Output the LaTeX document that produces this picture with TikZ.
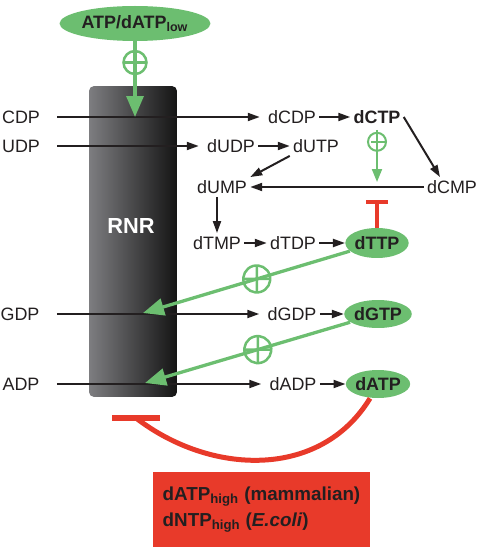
\documentclass[tikz,border=0pt]{standalone}
\usepackage{fontspec}
\setmainfont{Liberation Sans}
\usetikzlibrary{arrows.meta,shapes.geometric}

\definecolor{actgreen}{RGB}{108,190,112}
\definecolor{inhred}{RGB}{232,58,42}
\definecolor{barleft}{RGB}{125,125,128}
\definecolor{barright}{RGB}{20,20,20}
\definecolor{txt}{RGB}{35,31,32}

\begin{document}
\begin{tikzpicture}[x=0.02cm,y=-0.02cm,
    met/.style={inner sep=0.06cm,text=txt,font=\fontsize{10.2}{12}\selectfont},
    eff/.style={ellipse,fill=actgreen,inner sep=0pt,minimum width=1.2cm,minimum height=0.56cm,
      text=txt,font=\fontsize{10.2}{12}\selectfont\bfseries},
    flow/.style={txt,line width=0.04cm,-{Triangle[length=0.24cm,width=0.16cm]}},
    feed/.style={flow,shorten <=0.28cm,shorten >=0.1cm},
    act/.style={actgreen,line width=0.066cm,-{Triangle[length=0.42cm,width=0.34cm]}},
    plus/.style={circle,draw=actgreen,line width=0.05cm,inner sep=0pt,minimum size=0.46cm,
      path picture={\draw[-,actgreen,line width=0.05cm]
        (path picture bounding box.north) -- (path picture bounding box.south)
        (path picture bounding box.west) -- (path picture bounding box.east);}},
    inh/.style={inhred,line width=0.08cm}]

  \useasboundingbox (0,0) rectangle (480,550);

  % enzyme
  \node[rectangle,rounded corners=0.1cm,left color=barleft,right color=barright,
    inner sep=0pt,minimum width=1.76cm,minimum height=6.22cm] (rnr) at (133,241.5) {};
  \node[text=white,font=\fontsize{12.4}{14}\selectfont\bfseries] (rnrname) at (131,226) {RNR};

  % metabolites
  \node[eff,minimum width=2.74cm,minimum height=0.7cm] (atp) at (135,23.5) {ATP/dATP\textsubscript{low}};
  \node[met] (cdp) at (21,117) {CDP};
  \node[met] (udp) at (21,146) {UDP};
  \node[met] (gdp) at (20,314) {GDP};
  \node[met] (adp) at (21,384) {ADP};
  \node[met] (dcdp) at (292,117) {dCDP};
  \node[met,font=\fontsize{10.2}{12}\selectfont\bfseries] (dctp) at (377,117) {dCTP};
  \node[met] (dudp) at (231,146) {dUDP};
  \node[met] (dutp) at (316,146) {dUTP};
  \node[met] (dump) at (222,187) {dUMP};
  \node[met] (dcmp) at (452,187) {dCMP};
  \node[met] (dtmp) at (217,243) {dTMP};
  \node[met] (dtdp) at (293,243) {dTDP};
  \node[eff,minimum height=0.6cm] (dttp) at (377,243) {dTTP};
  \node[met] (dgdp) at (292,314) {dGDP};
  \node[eff] (dgtp) at (378,314) {dGTP};
  \node[met] (dadp) at (293,384) {dADP};
  \node[eff] (datp) at (378,384) {dATP};

  \coordinate (cdpin) at (135,117);
  \coordinate (gdpin) at (143,313);
  \coordinate (adpin) at (145,383);
  \coordinate (dctpin) at (377,182);
  \coordinate (dcmpblk) at (377,200);
  \coordinate (fbk) at (136,418);

  % reduction through RNR
  \draw[feed] (cdp) -- (dcdp);
  \draw[feed] (udp) -- (dudp);
  \draw[feed] (gdp) -- (dgdp);
  \draw[feed] (adp) -- (dadp);

  % downstream steps
  \draw[flow] (dcdp) -- (dctp);
  \draw[flow] (dudp) -- (dutp);
  \draw[flow] (dutp.south west) -- (dump.north east);
  \draw[flow] (dctp.east) -- ([xshift=-0.24cm]dcmp.north);
  \draw[flow] (dcmp) -- (dump);
  \draw[flow] (dump.south -| dtmp) -- (dtmp);
  \draw[flow] (dtmp) -- (dtdp);
  \draw[flow] (dtdp) -- (dttp);
  \draw[flow] (dgdp) -- (dgtp);
  \draw[flow] (dadp) -- (datp);

  % activation
  \draw[act] (atp) -- node[plus,pos=0.28] {} (cdpin);
  \draw[act,line width=0.04cm,-{Triangle[length=0.26cm,width=0.2cm]},shorten <=0.06cm]
    (dctp) -- node[plus,minimum size=0.36cm,line width=0.04cm,pos=0.27] {} (dctpin);
  \draw[act] (dttp) -- node[plus,sloped,minimum size=0.54cm,pos=0.45] {} (gdpin);
  \draw[act] (dgtp) -- node[plus,sloped,minimum size=0.54cm,pos=0.45] {} (adpin);

  % inhibition
  \draw[inh,-{Bar[width=0.44cm]}] (dttp) -- (dcmpblk);
  \draw[inh,line width=0.1cm] ([xshift=-0.16cm]datp.south) .. controls (320,480) and (210,475) .. (fbk);
  \draw[inh,line width=0.12cm] ([xshift=-0.48cm]fbk) -- ([xshift=0.48cm]fbk);

  \node[fill=inhred,text=txt,font=\fontsize{10.7}{14.7}\selectfont\bfseries,align=left,
    minimum width=4.34cm,minimum height=1.5cm] (cond) at (261.5,509.5)
    {dATP\textsubscript{high} (mammalian)\\dNTP\textsubscript{high} (\textit{E.coli})};
\end{tikzpicture}
\end{document}
